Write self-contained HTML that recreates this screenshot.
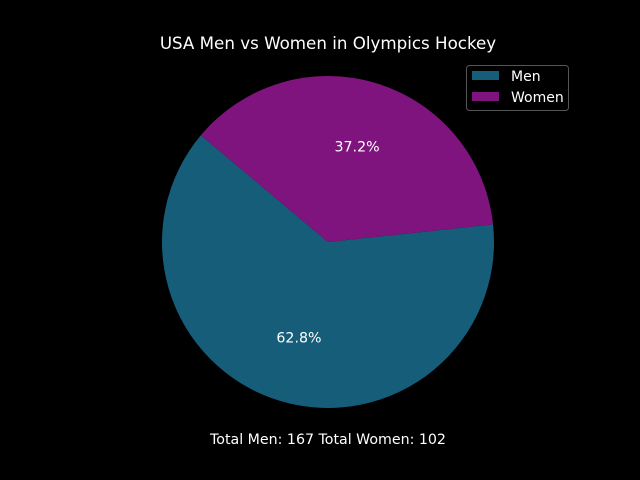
<!DOCTYPE html>
<html><head><meta charset="utf-8"><style>
body{margin:0;background:#000;}
svg{display:block;font-family:"DejaVu Sans","Liberation Sans",sans-serif;}
</style></head><body>
<svg id="chart" width="640" height="480" viewBox="0 0 640 480">
<rect width="640" height="480" fill="#000"/>
<text x="328" y="49" fill="#fff" font-size="16.7" text-anchor="middle">USA Men vs Women in Olympics Hockey</text>
<g id="slices"></g>
<text x="328" y="444" fill="#fff" font-size="14.2" text-anchor="middle" id="caption"></text>
<g>
<rect x="466.5" y="65.5" width="102" height="45" rx="3" fill="#000" stroke="#555"/>
<g id="legend"></g>
</g>
</svg>
<script>
const categories = ["Men", "Women"];
const sizes = [62.8, 37.2];
const counts = [167, 102];
const colors = ["#165d7a", "#80147f"];
const startAngle = 140;

const svg = document.getElementById('chart');
const ns = 'http://www.w3.org/2000/svg';
const cx = 328, cy = 242, R = 166;
const total = sizes.reduce((a,b)=>a+b,0);
function pt(deg, r){const a=deg*Math.PI/180;return [cx+r*Math.cos(a), cy-r*Math.sin(a)];}
let ang = startAngle;
const g = document.getElementById('slices');
sizes.forEach((v,i)=>{
  const span = v/total*360;
  const a0 = ang, a1 = ang+span;
  const p0 = pt(a0,R), p1 = pt(a1,R);
  const large = span>180?1:0;
  const path = document.createElementNS(ns,'path');
  path.setAttribute('d',`M${cx},${cy} L${p0[0]},${p0[1]} A${R},${R} 0 ${large} 0 ${p1[0]},${p1[1]} Z`);
  path.setAttribute('fill',colors[i]);
  
  
  g.appendChild(path);
  const m = pt((a0+a1)/2, R*0.6);
  const t = document.createElementNS(ns,'text');
  t.setAttribute('x',m[0]); t.setAttribute('y',m[1]+5);
  t.setAttribute('fill','#fff'); t.setAttribute('font-size','14.2'); t.setAttribute('text-anchor','middle');
  t.textContent = (v/total*100).toFixed(1)+'%';
  
  
  g.appendChild(t);
  ang = a1;
});
const lg = document.getElementById('legend');
categories.forEach((c,i)=>{
  const r = document.createElementNS(ns,'rect');
  r.setAttribute('x',472); r.setAttribute('y',71+i*21); r.setAttribute('width',27); r.setAttribute('height',9);
  r.setAttribute('fill',colors[i]);
  
  
  lg.appendChild(r);
  const t = document.createElementNS(ns,'text');
  t.setAttribute('x',511); t.setAttribute('y',81+i*21);
  t.setAttribute('fill','#fff'); t.setAttribute('font-size','14');
  t.textContent = c;
  
  
  lg.appendChild(t);
});
document.getElementById('caption').textContent = `Total Men: ${counts[0]} Total Women: ${counts[1]}`;
</script>
</body></html>
